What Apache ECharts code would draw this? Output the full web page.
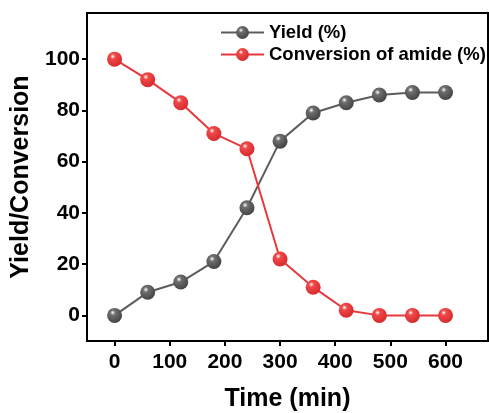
<!DOCTYPE html>
<html>
<head>
<meta charset="utf-8">
<script src="https://cdn.jsdelivr.net/npm/echarts@6/dist/echarts.min.js"></script>
<style>
  html, body { margin: 0; padding: 0; background: #fff; }
  #chart { width: 489px; height: 413px; }
</style>
</head>
<body>
<div id="chart"></div>
<script>
// time points (min)
var times = [0, 60, 120, 180, 240, 300, 360, 420, 480, 540, 600];
// yield (%)
var yieldVals = [0, 9, 13, 21, 42, 68, 79, 83, 86, 87, 87];
// conversion of amide (%)
var convVals = [100, 92, 83, 71, 65, 22, 11, 2, 0, 0, 0];
var xTicks = [0, 100, 200, 300, 400, 500, 600];
var yTicks = [0, 20, 40, 60, 80, 100];

function pairs(ys) {
  return times.map(function (t, i) { return [t, ys[i]]; });
}

function ball(c1, c2) {
  return new echarts.graphic.RadialGradient(0.38, 0.32, 0.7, [
    { offset: 0, color: '#ffffff' },
    { offset: 0.25, color: c1 },
    { offset: 1, color: c2 }
  ]);
}

var font = '"Liberation Sans", Arial, sans-serif';
var chart = echarts.init(document.getElementById('chart'));

chart.setOption({
  animation: false,
  textStyle: { fontFamily: font },
  grid: {
    left: 87, top: 13, right: 1, bottom: 72,
    outerBoundsMode: 'none',
    show: true, borderColor: '#000', borderWidth: 2
  },
  legend: {
    orient: 'vertical',
    left: 220, top: 23,
    padding: 0,
    itemWidth: 43, itemHeight: 16, itemGap: 3,
    textStyle: { fontSize: 18.5, fontWeight: 'bold', color: '#000', fontFamily: font, overflow: 'none' },
    data: ['Yield (%)', 'Conversion of amide (%)']
  },
  xAxis: {
    type: 'value',
    min: -50, max: 677,
    name: 'Time (min)',
    nameLocation: 'middle',
    nameGap: 46,
    nameTextStyle: { fontSize: 25, fontWeight: 'bold', color: '#000', fontFamily: font },
    splitLine: { show: false },
    axisLine: { show: true, onZero: false, lineStyle: { color: '#000', width: 2 } },
    axisTick: { show: true, length: 5, lineStyle: { color: '#000', width: 2 }, customValues: xTicks },
    axisLabel: { fontSize: 21, fontWeight: 'bold', color: '#000', margin: 11, customValues: xTicks, fontFamily: font }
  },
  yAxis: {
    type: 'value',
    min: -10, max: 118,
    name: 'Yield/Conversion',
    nameLocation: 'middle',
    nameGap: 46,
    nameTextStyle: { fontSize: 25, fontWeight: 'bold', color: '#000', fontFamily: font },
    splitLine: { show: false },
    axisLine: { show: true, onZero: false, lineStyle: { color: '#000', width: 2 } },
    axisTick: { show: true, length: 5, lineStyle: { color: '#000', width: 2 }, customValues: yTicks },
    axisLabel: { fontSize: 21, fontWeight: 'bold', color: '#000', margin: 7, customValues: yTicks, fontFamily: font }
  },
  series: [
    {
      name: 'Yield (%)',
      type: 'line',
      data: pairs(yieldVals),
      symbol: 'circle',
      symbolSize: 15,
      lineStyle: { color: '#5c5c5c', width: 2 },
      itemStyle: { color: ball('#6e6e6e', '#434343') },
      z: 3
    },
    {
      name: 'Conversion of amide (%)',
      type: 'line',
      data: pairs(convVals),
      symbol: 'circle',
      symbolSize: 15,
      lineStyle: { color: '#e8383b', width: 2 },
      itemStyle: { color: ball('#f04848', '#d62a2e') },
      z: 4
    }
  ]
});
</script>
</body>
</html>
